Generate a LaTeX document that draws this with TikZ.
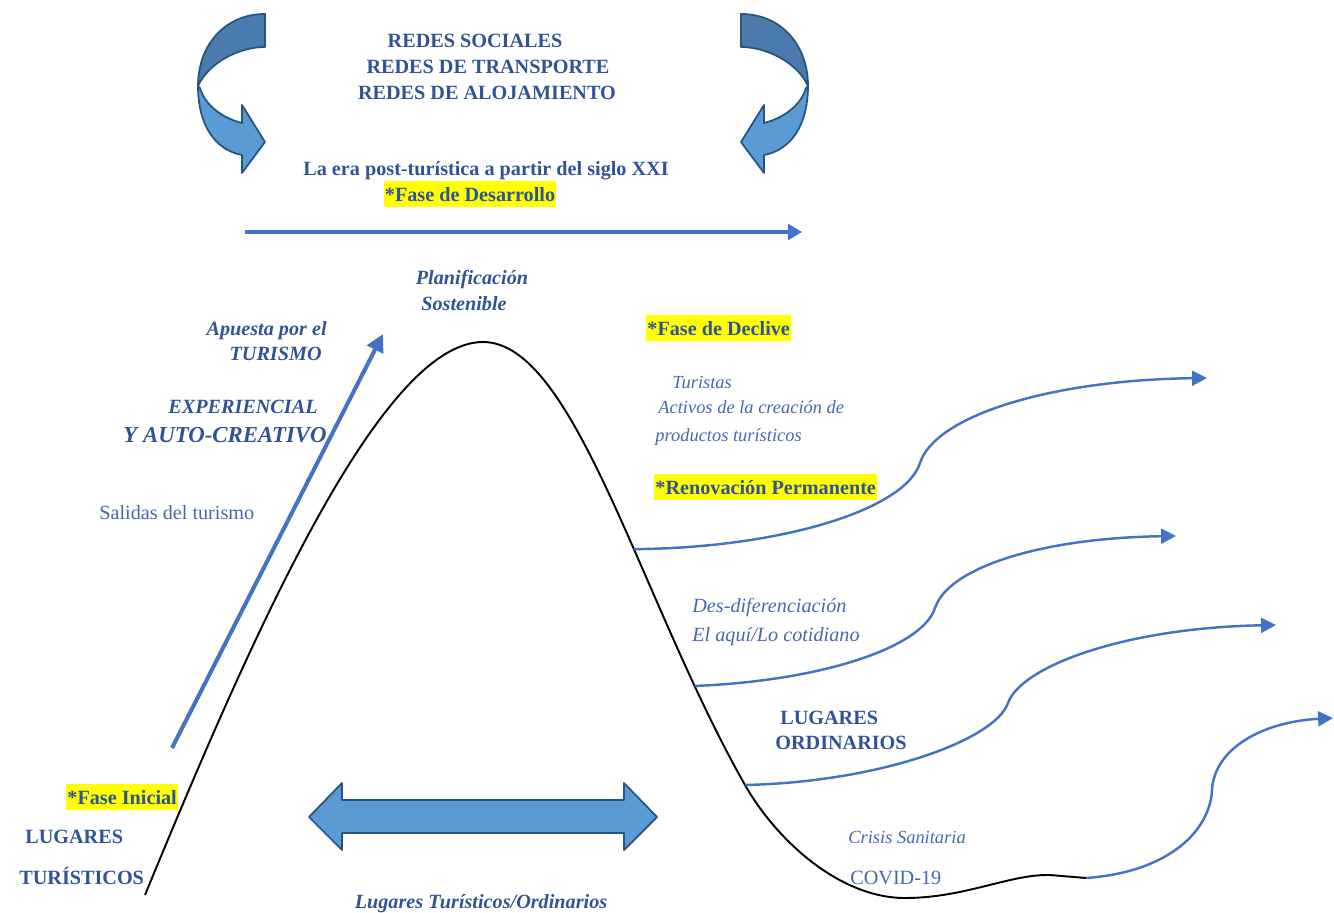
\documentclass[tikz,border=0pt]{standalone}
\usepackage{fontspec}
\setmainfont{Liberation Serif}
\usetikzlibrary{arrows.meta}

\definecolor{navytext}{HTML}{2F5496}
\definecolor{softtext}{HTML}{4468B0}
\definecolor{flowblue}{HTML}{4472C4}
\definecolor{bandtop}{HTML}{4A7AAE}
\definecolor{bandlow}{HTML}{5B9BD5}
\definecolor{bandedge}{HTML}{25557F}
\definecolor{marker}{HTML}{FFFF00}

\tikzset{
	headtext/.style={
		font=\fontsize{11.5}{14}\selectfont\bfseries,
		text=navytext,
		inner sep=0pt
	},
	boldital/.style={
		font=\fontsize{11.5}{14}\selectfont\bfseries\itshape,
		text=navytext,
		inner sep=0pt
	},
	itnote/.style={
		font=\fontsize{11.5}{14}\selectfont\itshape,
		text=softtext,
		inner sep=0pt
	},
	itsmall/.style={
		font=\fontsize{10.5}{13}\selectfont\itshape,
		text=softtext,
		inner sep=0pt
	},
	plaintext/.style={
		font=\fontsize{11.5}{14}\selectfont,
		text=softtext,
		inner sep=0pt
	},
	phasebox/.style={
		headtext,
		fill=marker,
		inner xsep=0.6pt,
		text height=11.2pt,
		text depth=3.4pt
	},
	flowarrow/.style={
		draw=flowblue,
		line width=1.4pt,
		-{Triangle[length=8.5pt,width=8.5pt]}
	},
	bandshape/.style={
		draw=bandedge,
		line width=1pt,
		line join=round
	},
	turnarrow/.pic={
		\filldraw[bandshape, fill=bandtop] (265,14) .. controls (225,14) and (198,45) .. (198,86)
			.. controls (209,62) and (240,47) .. (265,47) -- cycle;
		\filldraw[bandshape, fill=bandlow] (198,86) .. controls (198,125) and (215,150) .. (242,155)
			-- (242,173) -- (265,142) -- (242,105) -- (242,123)
			.. controls (222,118) and (205,105) .. (200,88) -- cycle;
	}
}

\begin{document}
\begin{tikzpicture}[x=0.02cm, y=-0.02cm]
	\useasboundingbox (0,0) rectangle (1334,912);

	% Turning arrows round the networks
	\pic (turnleft) at (0,0) {turnarrow};
	\pic[xscale=-1] (turnright) at (1006,0) {turnarrow};

	% Top block: networks and development phase
	\node[headtext, anchor=base] (redsoc) at (475,48) {REDES SOCIALES};
	\node[headtext, anchor=base] (redtra) at (488,74) {REDES DE TRANSPORTE};
	\node[headtext, anchor=base] (redalo) at (487,100) {REDES DE ALOJAMIENTO};
	\node[headtext, anchor=base] (era) at (486,175) {La era post-turística a partir del siglo XXI};
	\node[phasebox, anchor=base] (desarrollo) at (470,201) {*Fase de Desarrollo};

	\coordinate (eraA) at (245,232);
	\coordinate (eraB) at (802,232);
	\draw[flowarrow, line width=1.8pt, -{Triangle[length=8pt,width=9pt]}] (eraA) -- (eraB);

	% Rising side
	\node[boldital, anchor=base] (plan) at (472,284) {Planificación};
	\node[boldital, anchor=base] (sost) at (464,310) {Sostenible};
	\node[boldital, anchor=base east] (apuesta) at (327,335) {Apuesta por el};
	\node[boldital, anchor=base east] (turismo) at (322,360) {TURISMO};
	\node[boldital, anchor=base east] (exper) at (318,413) {EXPERIENCIAL};
	\node[boldital, font=\fontsize{13}{15}\selectfont\bfseries\itshape, anchor=base east] (autocrea) at (327,442) {Y AUTO-CREATIVO};
	\node[plaintext, anchor=base west] (salidas) at (99,519) {Salidas del turismo};

	\coordinate (riseA) at (172,748);
	\coordinate (riseB) at (383,334);
	\draw[flowarrow, line width=2.3pt, -{Triangle[length=10pt,width=10pt]}] (riseA) -- (riseB);

	% Life cycle curve
	\draw[line width=1.1pt, black, line join=round]
		(145,895) .. controls (250,640) and (380,342) .. (483,342)
		.. controls (575,342) and (640,600) ..
			node[coordinate, pos=0.6] (dep1) {}
			node[coordinate, pos=0.83] (dep2) {} (745,785) coordinate (dep3)
		.. controls (777,841) and (840,898) .. (905,898)
		.. controls (965,898) and (1010,874) .. (1050,875)
		-- (1086,878) coordinate (dep4);
	\coordinate (out1) at (1207,378);
	\coordinate (out2) at (1176,536);
	\coordinate (out3) at (1276,625);
	\coordinate (out4) at (1333,718);

	% Falling side
	\node[phasebox, anchor=base west] (declive) at (646,335) {*Fase de Declive};
	\node[itsmall, anchor=base west] (turistas) at (672,388) {Turistas};
	\node[itsmall, anchor=base west] (activos) at (658,413) {Activos de la creación de};
	\node[itsmall, anchor=base west] (productos) at (655,441) {productos turísticos};
	\node[phasebox, anchor=base west] (renova) at (654,494) {*Renovación Permanente};
	\node[itnote, anchor=base west] (desdif) at (692,612) {Des-diferenciación};
	\node[itnote, anchor=base west] (aqui) at (692,641) {El aquí/Lo cotidiano};
	\node[headtext, anchor=base west] (lugord) at (780,724) {LUGARES};
	\node[headtext, anchor=base west] (ordin) at (775,749) {ORDINARIOS};
	\node[itsmall, anchor=base west] (crisis) at (848,843) {Crisis Sanitaria};
	\node[plaintext, anchor=base west] (covid) at (850,884) {COVID-19};

	% Branches leaving the curve
	\draw[flowarrow] (dep1) .. controls (780,548) and (905,510) .. (920,463)
		.. controls (935,416) and (1050,380) .. (out1);
	\draw[flowarrow] (dep2) .. controls (820,681) and (922,648) .. (935,608)
		.. controls (948,568) and (1040,538) .. (out2);
	\draw[flowarrow] (dep3) .. controls (880,782) and (995,740) .. (1008,703)
		.. controls (1020,668) and (1120,628) .. (out3);
	\draw[flowarrow] (dep4) .. controls (1170,872) and (1210,830) .. (1212,790)
		.. controls (1214,750) and (1260,722) .. (out4);

	% Bottom: initial phase and places
	\node[phasebox, anchor=base west] (inicial) at (66,804) {*Fase Inicial};
	\node[headtext, anchor=base west] (lugtur) at (25,843) {LUGARES};
	\node[headtext, anchor=base west] (turist) at (19,884) {TURÍSTICOS};

	\filldraw[bandshape, fill=bandlow] (309,817) -- (342,783) -- (342,800) -- (624,800) -- (624,783)
		-- (657,817) -- (624,850) -- (624,833) -- (342,833) -- (342,850) -- cycle;
	\node[boldital, anchor=base] (lugares) at (481,908) {Lugares Turísticos/Ordinarios};
\end{tikzpicture}
\end{document}
